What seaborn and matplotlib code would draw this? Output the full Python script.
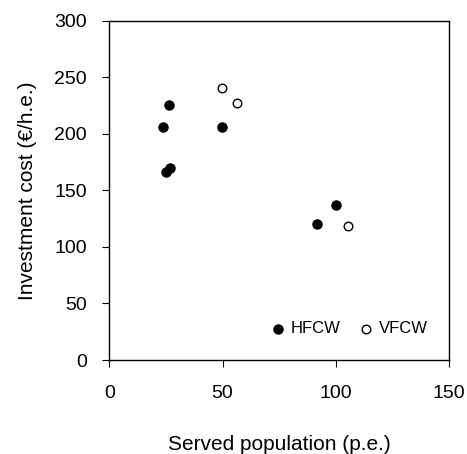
import matplotlib
matplotlib.use("Agg")
import matplotlib.pyplot as plt
import seaborn as sns
import pandas as pd

# Data
hfcw_pop = [26.5, 23.5, 24.9, 26.6, 49.6, 99.9, 91.5]
hfcw_cost = [225.5, 206, 166.5, 169.5, 206, 137.5, 120]
vfcw_pop = [49.6, 56.5, 105.4]
vfcw_cost = [240.5, 227, 118.5]
series_names = ["HFCW", "VFCW"]
x_ticks = [0, 50, 100, 150]
y_ticks = [0, 50, 100, 150, 200, 250, 300]

sns.set_style("ticks")
plt.rcParams['font.family'] = ['Liberation Sans', 'DejaVu Sans']
plt.rcParams['text.color'] = 'black'
plt.rcParams['axes.labelcolor'] = 'black'
plt.rcParams['xtick.color'] = 'black'
plt.rcParams['ytick.color'] = 'black'

df = pd.DataFrame({
    "pop": hfcw_pop + vfcw_pop,
    "cost": hfcw_cost + vfcw_cost,
    "type": [series_names[0]] * len(hfcw_pop) + [series_names[1]] * len(vfcw_pop),
})

fig = plt.figure(figsize=(4.67, 4.54), dpi=100)
ax = fig.add_axes([0.234, 0.207, 0.728, 0.747])

sns.scatterplot(data=df[df["type"] == "HFCW"], x="pop", y="cost", ax=ax,
                s=45, color="black", edgecolor="black", linewidth=0.8,
                label="HFCW", zorder=3)
sns.scatterplot(data=df[df["type"] == "VFCW"], x="pop", y="cost", ax=ax,
                s=38, facecolor="white", edgecolor="black", linewidth=1.0,
                label="VFCW", zorder=3)

ax.set_xlim(0, 150)
ax.set_ylim(0, 300)
ax.set_xticks(x_ticks)
ax.set_yticks(y_ticks)
for s in ax.spines.values():
    s.set_visible(True)
    s.set_linewidth(1.0)
    s.set_color("black")
ax.tick_params(axis='x', direction='out', length=5, width=0.8, pad=13, labelsize=14, colors='black')
ax.tick_params(axis='y', direction='out', length=5, width=0.8, pad=11, labelsize=14, colors='black')

ax.set_xlabel("Served population (p.e.)", fontsize=15)
ax.set_ylabel("Investment cost (€/h.e.)", fontsize=15)
ax.xaxis.set_label_coords(0.5, -0.221)
ax.yaxis.set_label_coords(-0.213, 0.5)

leg = ax.legend(loc="lower right", ncol=2, frameon=False, fontsize=12,
                bbox_to_anchor=(0.958, 0.05), borderaxespad=0, borderpad=0.4,
                handlelength=1.0, handletextpad=0.3,
                columnspacing=1.0, markerscale=1.0)

fig.savefig("out.png", dpi=100)
